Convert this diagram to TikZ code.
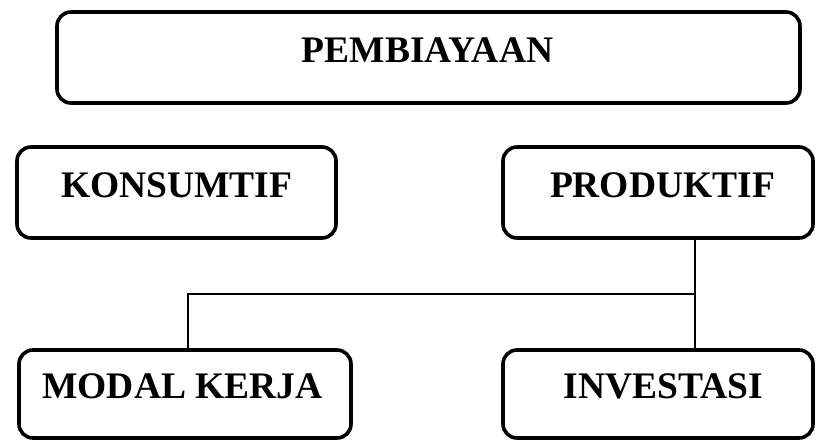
\documentclass[tikz,border=0pt]{standalone}
\usepackage{fontspec}
\setmainfont{Liberation Serif}
\begin{document}
\begin{tikzpicture}[x=1pt,y=-1pt,
  box/.style={draw,line width=3.6pt,rounded corners=14pt,rectangle,inner sep=0pt},
  lbl/.style={anchor=base,inner sep=0pt,font=\fontsize{37.5}{45}\selectfont\bfseries},
  conn/.style={line width=1.4pt}]
\useasboundingbox (0,0) rectangle (816,442);
% boxes (path centre lines)
\node[box,minimum width=743pt,minimum height=91pt] (pemb) at (428.5,57.5) {};
\node[box,minimum width=319pt,minimum height=91pt] (kons) at (176.5,192.5) {};
\node[box,minimum width=310pt,minimum height=91pt] (prod) at (658,192.5) {};
\node[box,minimum width=332pt,minimum height=88pt] (modal) at (185,394) {};
\node[box,minimum width=310pt,minimum height=88pt] (inv) at (658,394) {};
% texts
\node[lbl] (tpemb) at (427.5,62) {PEMBIAYAAN};
\node[lbl] (tkons) at (176.7,197.5) {KONSUMTIF};
\node[lbl] (tprod) at (662.5,197.5) {PRODUKTIF};
\node[lbl] (tmodal) at (182.5,398.5) {MODAL KERJA};
\node[lbl] (tinv) at (663.3,398.5) {INVESTASI};
% connectors
\coordinate (j) at (695,294);
\coordinate (k) at (188,294);
\draw[conn] (j |- prod.south) -- (j |- inv.north);
\draw[conn] (j) -- (k) -- (k |- modal.north);
\end{tikzpicture}
\end{document}
